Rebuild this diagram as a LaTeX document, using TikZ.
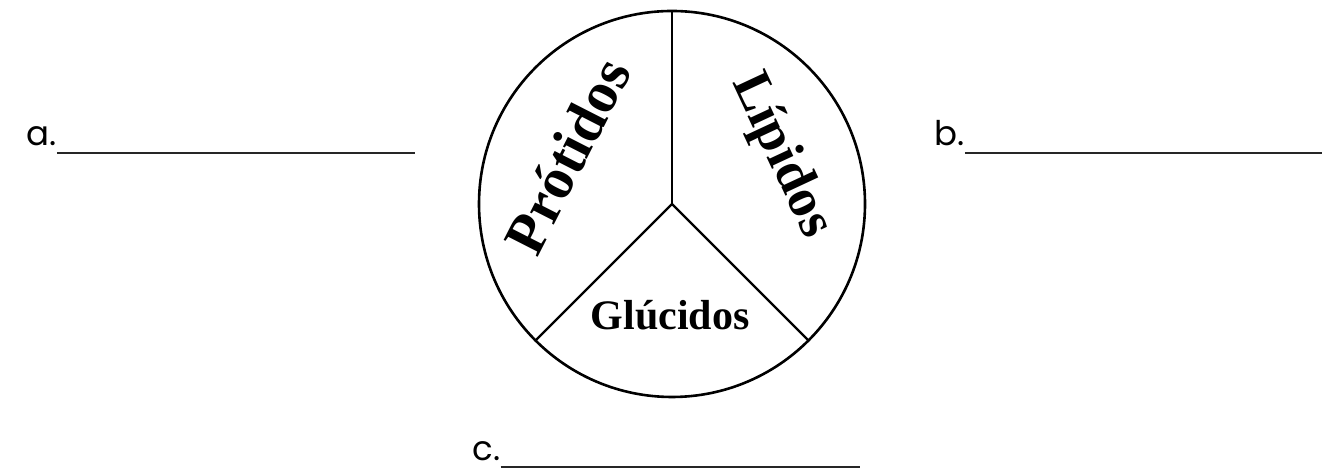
\documentclass[tikz,border=0pt]{standalone}
\usepackage{fontspec}
\setmainfont{Liberation Serif}
\newfontfamily\gothicfont{Poppins}
\usetikzlibrary{calc}

\begin{document}
\begin{tikzpicture}[x=0.5pt,y=0.5pt,
  sector/.style={font=\bfseries\fontsize{29}{29}\selectfont,inner sep=0pt},
  itemlabel/.style={font=\gothicfont\fontsize{17}{17}\selectfont,anchor=base west,inner sep=0pt},
  blankline/.style={line width=1pt,black!85}]
\useasboundingbox (0,0) rectangle (1340,470);

% Circle and spokes
\coordinate (hub) at (672,266);
\draw[line width=1.3pt] (hub) circle (193);
\coordinate (top) at ($(hub)+(90:193)$);
\coordinate (left) at ($(hub)+(225:193)$);
\coordinate (right) at ($(hub)+(315:193)$);
\draw[line width=1.2pt] (hub) -- (top);
\draw[line width=1.2pt] (hub) -- (left);
\draw[line width=1.2pt] (hub) -- (right);

% Sector names
\node[sector,rotate=63] (protidos) at (567,314) {Prótidos};
\node[sector,rotate=-65,font=\bfseries\fontsize{27}{27}\selectfont] (lipidos) at (781,314) {Lípidos};
\node[sector,font=\bfseries\fontsize{21}{21}\selectfont] (glucidos) at (670,155) {Glúcidos};

% Blanks
\node[itemlabel] (a) at (26,324) {a.};
\coordinate (aend) at (415,317);
\draw[blankline] (a.base east |- aend) -- (aend);

\node[itemlabel] (b) at (934,324) {b.};
\coordinate (bend) at (1322,317);
\draw[blankline] (b.base east |- bend) -- (bend);

\node[itemlabel] (c) at (472,9) {c.};
\coordinate (cend) at (860,3);
\draw[blankline] (c.base east |- cend) -- (cend);
\end{tikzpicture}
\end{document}
